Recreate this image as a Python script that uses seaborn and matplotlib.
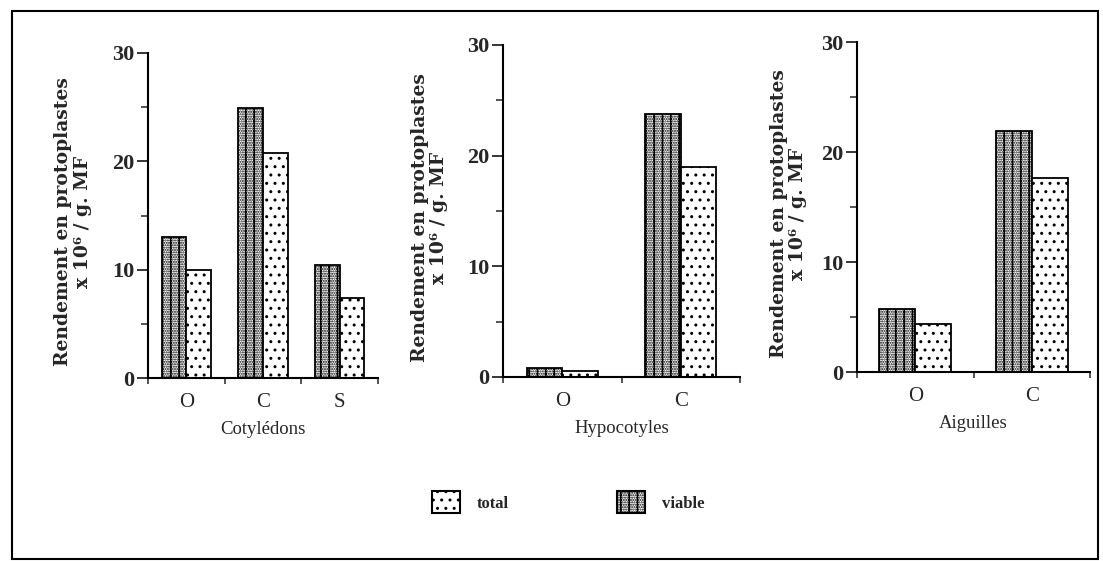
import matplotlib.pyplot as plt
import pandas as pd
import seaborn as sns
from matplotlib.patches import Patch, Rectangle

# values (x 10^6 protoplastes / g MF)
cot_cats = ["O", "C", "S"]
cot_viable = [13.0, 24.9, 10.4]
cot_total = [10.0, 20.8, 7.4]

hyp_cats = ["O", "C"]
hyp_viable = [0.8, 23.8]
hyp_total = [0.5, 19.0]

aig_cats = ["O", "C"]
aig_viable = [5.7, 21.9]
aig_total = [4.4, 17.6]

SERIES = ["viable", "total"]
HATCH = {"viable": "||.......", "total": ".."}
YLABEL = "Rendement en protoplastes\nx 10\u2076 / g. MF"

sns.set_theme(style="ticks")
plt.rcParams["font.family"] = ["Liberation Serif", "DejaVu Serif"]
plt.rcParams["hatch.linewidth"] = 1.0
plt.rcParams["hatch.color"] = "black"


def long_form(cats, viable, total):
    return pd.DataFrame({
        "cat": cats * 2,
        "val": viable + total,
        "serie": ["viable"] * len(cats) + ["total"] * len(cats),
    })


panels = [
    ("Cotylédons", cot_cats, cot_viable, cot_total,
     [148, 378, 53, 378], 0.64, -0.245),
    ("Hypocotyles", hyp_cats, hyp_viable, hyp_total,
     [503, 740, 45, 377], 0.60, -0.232),
    ("Aiguilles", aig_cats, aig_viable, aig_total,
     [857, 1090, 42, 372], 0.62, -0.215),
]

W, H = 1103, 561
fig = plt.figure(figsize=(W / 100, H / 100), dpi=100)

for name, cats, viable, total, (x0, x1, yt, yb), width, lab_x in panels:
    ax = fig.add_axes([x0 / W, 1 - yb / H, (x1 - x0) / W, (yb - yt) / H])
    df = long_form(cats, viable, total)
    sns.barplot(data=df, x="cat", y="val", hue="serie", order=cats,
                hue_order=SERIES, palette={"viable": "white", "total": "white"},
                edgecolor="black", linewidth=1.3, width=width, errorbar=None,
                saturation=1, legend=False, ax=ax)
    for cont, s in zip(ax.containers, SERIES):
        for bar in cont:
            bar.set_hatch(HATCH[s])

    ax.set_ylim(0, 30)
    ax.set_xlim(-0.5, len(cats) - 0.5)
    ax.set_yticks([0, 10, 20, 30])
    ax.set_yticks([5, 15, 25], minor=True)
    ax.set_xticks(range(len(cats)))
    ax.set_xticks([i - 0.5 for i in range(len(cats) + 1)], minor=True)
    ax.tick_params(axis="y", which="major", length=8, width=1.3, pad=2,
                   labelsize=16)
    ax.tick_params(axis="y", which="minor", length=5, width=1.1)
    ax.tick_params(axis="x", which="major", length=0, pad=11, labelsize=15)
    ax.tick_params(axis="x", which="minor", length=4, width=1.1)
    for t in ax.get_yticklabels():
        t.set_fontweight("bold")

    sns.despine(ax=ax)
    for sp in ("left", "bottom"):
        ax.spines[sp].set_linewidth(1.5)
        ax.spines[sp].set_color("black")

    ax.set_xlabel(name, fontsize=13.5, labelpad=6)
    ax.set_ylabel(YLABEL, fontsize=13.5, fontweight="bold",
                  family=["DejaVu Serif"], linespacing=1.1)
    ax.yaxis.set_label_coords(lab_x, 0.48)

handles = [Patch(facecolor="white", edgecolor="black", hatch=HATCH[s], lw=1.5)
           for s in ["total", "viable"]]
fig.legend(handles, ["total", "viable"], loc="center", ncol=2,
           bbox_to_anchor=(0.515, 0.105), frameon=False,
           prop={"size": 12, "weight": "bold"}, handlelength=1.7,
           handleheight=1.6, columnspacing=6.5, handletextpad=1.0)

fig.patches.append(Rectangle((12 / W, 1 - 559 / H), (1098 - 12) / W,
                             (559 - 11) / H, transform=fig.transFigure,
                             fill=False, edgecolor="black", lw=1.5))

fig.savefig("out.png", dpi=100)
